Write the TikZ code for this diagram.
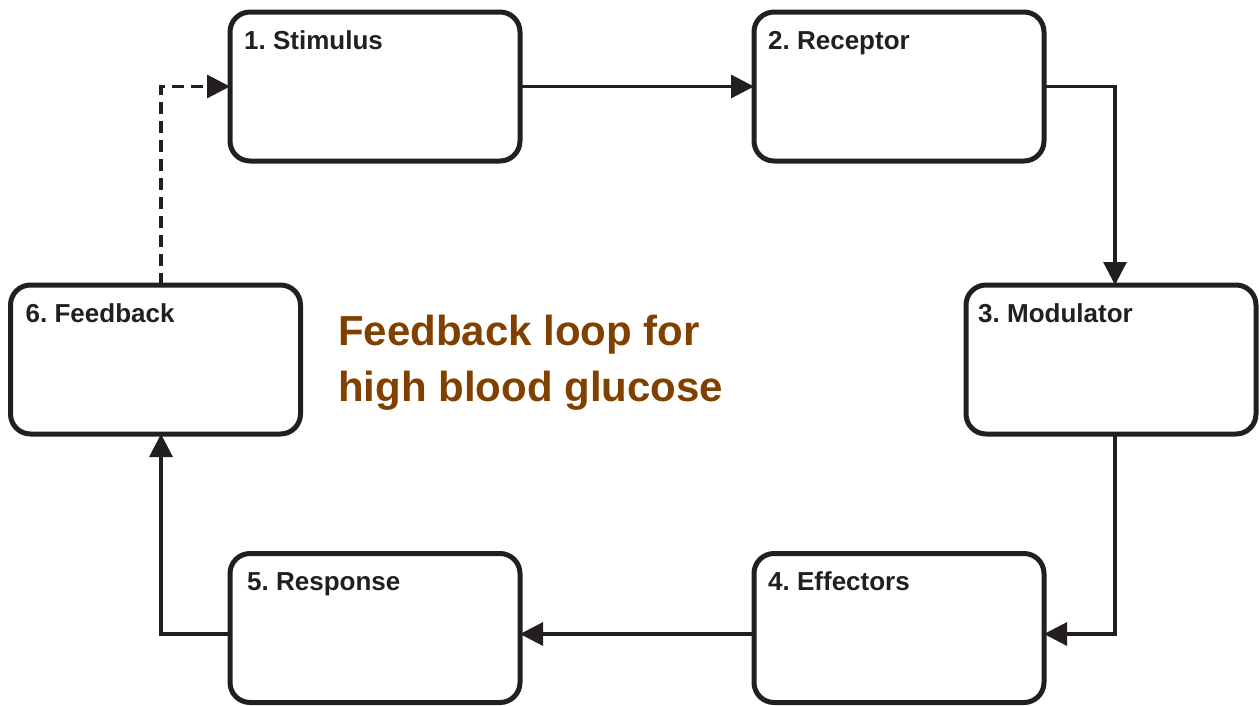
\documentclass[tikz,border=0pt]{standalone}
\usepackage{fontspec}
\setmainfont{Liberation Sans}
\usetikzlibrary{arrows.meta,calc}
\definecolor{ink}{RGB}{35,31,32}
\definecolor{titlebrown}{RGB}{128,64,0}
\frenchspacing
\tikzset{
  stagebox/.style={draw=ink, line width=5pt, rounded corners=20pt, fill=white,
    minimum width=290pt, minimum height=149pt, inner sep=0pt, outer sep=0pt},
  stagelabel/.style={anchor=base west, inner sep=0pt, text=ink,
    font=\bfseries\fontsize{26}{30}\selectfont},
  conn/.style={draw=ink, line width=3.2pt, -{Triangle[length=23pt,width=23pt]}},
  fbconn/.style={conn, dash pattern=on 12pt off 7pt}
}
\begin{document}
\begin{tikzpicture}[x=1pt,y=-1pt]
\useasboundingbox (0,0) rectangle (1259,705);

% the six stages of the loop
\node[stagebox] (s1) at (375,86.5) {};
\node[stagebox] (s2) at (899,86.5) {};
\node[stagebox] (s3) at (1111,359.5) {};
\node[stagebox] (s4) at (899,628) {};
\node[stagebox] (s5) at (375,628) {};
\node[stagebox] (s6) at (155.5,359.5) {};

\node[stagelabel] (t1) at ([xshift=14pt,yshift=-37pt]s1.north west) {1. Stimulus};
\node[stagelabel] (t2) at ([xshift=14pt,yshift=-37pt]s2.north west) {2. Receptor};
\node[stagelabel] (t3) at ([xshift=12pt,yshift=-37pt]s3.north west) {3. Modulator};
\node[stagelabel] (t4) at ([xshift=14pt,yshift=-37pt]s4.north west) {4. Effectors};
\node[stagelabel] (t5) at ([xshift=17pt,yshift=-37pt]s5.north west) {5. Response};
\node[stagelabel] (t6) at ([xshift=15pt,yshift=-37pt]s6.north west) {6. Feedback};

% title (base anchor sits on the last line)
\node[anchor=base west, inner sep=0pt, align=left, text=titlebrown,
      font=\bfseries\fontsize{42}{56}\selectfont] (title) at (338,401)
  {Feedback loop for\\high blood glucose};

% connectors
\draw[conn] (s1.east) -- (s2.west);
\draw[conn] (s2.east) -| ([xshift=4pt]s3.north);
\draw[conn] ([xshift=4pt]s3.south) |- ([yshift=-6pt]s4.east);
\draw[conn] ([yshift=-6pt]s4.west) -- ([yshift=-6pt]s5.east);
\draw[conn] ([yshift=-6pt]s5.west) -| ([xshift=5.5pt]s6.south);
\draw[fbconn] ([xshift=5.5pt]s6.north) |- (s1.west);
\end{tikzpicture}
\end{document}
